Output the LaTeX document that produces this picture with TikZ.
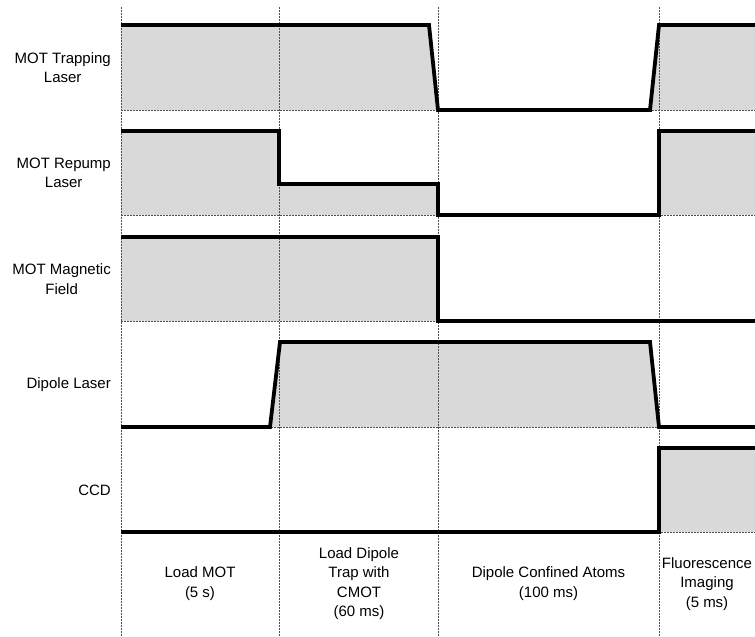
\documentclass[tikz,border=0pt]{standalone}
\usepackage{fontspec}
\setmainfont{Liberation Sans}
\definecolor{shade}{HTML}{D9D9D9}
\definecolor{grid}{HTML}{505050}
\begin{document}
\begin{tikzpicture}[x=1pt,y=-1pt,
  shadefill/.style={fill=shade,draw=none},
  gridline/.style={draw=grid,line width=0.6pt,dash pattern=on 2pt off 1pt},
  signal/.style={draw=black,line width=3.8pt,line join=miter,line cap=butt},
  rowlabel/.style={anchor=east,align=center,inner sep=0pt,font=\fontsize{15}{19.5}\selectfont},
  phaselabel/.style={anchor=center,align=center,inner sep=0pt,font=\fontsize{15}{19.5}\selectfont}]
\useasboundingbox (0,0) rectangle (755,637);

% shaded areas
\fill[shadefill] (121,25) -- (429,25) -- (438,110) -- (121,110) -- cycle;
\fill[shadefill] (650,110) -- (659,25) -- (755,25) -- (755,110) -- cycle;
\fill[shadefill] (121,131) -- (279,131) -- (279,184) -- (438,184) -- (438,215) -- (121,215) -- cycle;
\fill[shadefill] (659,131) -- (755,131) -- (755,215) -- (659,215) -- cycle;
\fill[shadefill] (121,237) -- (438,237) -- (438,321) -- (121,321) -- cycle;
\fill[shadefill] (270,427) -- (280,342) -- (650,342) -- (659,427) -- cycle;
\fill[shadefill] (659,448) -- (755,448) -- (755,532) -- (659,532) -- cycle;

% dashed grid
\foreach \x in {121.5,279.5,438,659} {\draw[gridline] (\x,7) -- (\x,637);}
\foreach \y in {110,215,321,427,532} {\draw[gridline] (121,\y) -- (755,\y);}

% signals
\draw[signal] (121,25) -- (429,25) -- (438,110) -- (650,110) -- (659,25) -- (756,25);
\draw[signal] (121,131) -- (279,131) -- (279,184) -- (438,184) -- (438,215) -- (659,215) -- (659,131) -- (756,131);
\draw[signal] (121,237) -- (438,237) -- (438,321) -- (756,321);
\draw[signal] (121,427) -- (270,427) -- (280,342) -- (650,342) -- (659,427) -- (756,427);
\draw[signal] (121,532) -- (659,532) -- (659,448) -- (756,448);

% row labels
\node[rowlabel] (l1) at (111,67.5) {MOT Trapping\\Laser};
\node[rowlabel] (l2) at (111,173) {MOT Repump\\Laser};
\node[rowlabel] (l3) at (111,279) {MOT Magnetic\\Field};
\node[rowlabel] (l4) at (111,384.5) {Dipole Laser};
\node[rowlabel] (l5) at (111,490) {CCD};

% phase labels
\node[phaselabel] (p1) at (200,583.5) {Load MOT\\(5 s)};
\node[phaselabel] (p2) at (359,583.5) {Load Dipole\\Trap with\\CMOT\\(60 ms)};
\node[phaselabel] (p3) at (548.5,583.5) {Dipole Confined Atoms\\(100 ms)};
\node[phaselabel] (p4) at (707,584) {Fluorescence\\Imaging\\(5 ms)};
\end{tikzpicture}
\end{document}
